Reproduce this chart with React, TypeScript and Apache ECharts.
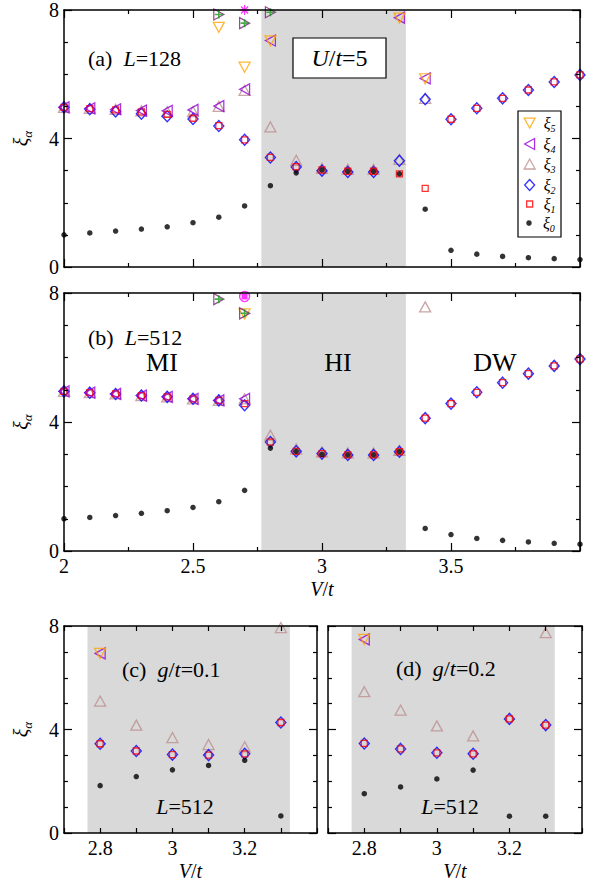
import React, { useEffect, useRef } from "react";
import * as echarts from "echarts";

const FONT = "Liberation Serif";

// ---------- data ----------
const vFull = [2.0, 2.1, 2.2, 2.3, 2.4, 2.5, 2.6, 2.7, 2.8, 2.9, 3.0, 3.1, 3.2, 3.3, 3.4, 3.5, 3.6, 3.7, 3.8, 3.9, 4.0];
const vZoom = [2.8, 2.9, 3.0, 3.1, 3.2, 3.3];
const shadeRange = [2.765, 3.325];

// (a) L=128
const xi0A = [1.0, 1.06, 1.12, 1.18, 1.25, 1.38, 1.55, 1.9, 2.53, 2.93, 3.02, 2.98, 2.98, 2.9, 1.8, 0.52, 0.4, 0.33, 0.29, 0.26, 0.23];
const xi1A = [4.97, 4.93, 4.89, 4.83, 4.75, 4.63, 4.4, 3.96, 3.41, 3.12, 3.02, 2.98, 2.98, 2.9, 2.45, 4.6, 4.94, 5.25, 5.51, 5.76, 5.98];
const xi2A = [4.97, 4.91, 4.84, 4.77, 4.69, 4.61, 4.39, 3.96, 3.41, 3.11, 3.0, 2.96, 2.96, 3.31, 5.22, 4.6, 4.94, 5.25, 5.51, 5.76, 5.98];
const xi3A = [4.97, 4.94, 4.91, 4.86, 4.84, 4.84, 5.0, 5.5, 4.36, 3.32, 3.07, 3.04, 3.04, 3.35, 5.25, null, null, null, null, null, null];
const xi4A = [4.97, 4.94, 4.91, 4.87, 4.86, 4.89, 5.01, 5.53, 7.05, null, null, null, null, 7.76, 5.87, null, null, null, null, null, null];
const xi5A = [null, null, null, null, null, null, 7.46, 6.22, 7.04, null, null, null, null, 7.75, 5.86, null, null, null, null, null, null];
const vHighA = [2.6, 2.7, 2.8];
const xi6A = [7.86, 7.59, 7.93];
const vStarA = [2.7];
const xi7A = [8.0];

// (b) L=512
const xi0B = [1.0, 1.04, 1.1, 1.17, 1.25, 1.35, 1.53, 1.88, 3.19, 3.09, 3.0, 2.98, 2.98, 3.08, 0.7, 0.51, 0.39, 0.33, 0.28, 0.24, 0.21];
const xi1B = [4.95, 4.91, 4.87, 4.82, 4.78, 4.72, 4.67, 4.57, 3.38, 3.09, 3.02, 2.98, 2.98, 3.08, 4.12, 4.57, 4.92, 5.22, 5.5, 5.74, 5.95];
const xi2B = [4.95, 4.91, 4.87, 4.82, 4.78, 4.72, 4.67, 4.52, 3.38, 3.09, 3.02, 2.98, 2.98, 3.08, 4.12, 4.57, 4.92, 5.22, 5.5, 5.74, 5.95];
const xi3B = [4.95, 4.91, 4.87, 4.82, 4.78, 4.72, 4.67, 4.72, 3.59, 3.17, 3.07, 3.04, 3.04, 3.12, 7.57, null, null, null, null, null, null];
const xi4B = [4.95, 4.91, 4.87, 4.82, 4.78, 4.72, 4.67, 4.72, null, null, null, null, null, null, null, null, null, null, null, null, null];
const xi5B = [null, null, null, null, null, null, null, 7.35, null, null, null, null, null, null, null, null, null, null, null, null, null];
const vHighB = [2.6, 2.7];
const xi6B = [7.81, 7.37];
const vStarB = [2.7];
const xi7B = [7.89];

// (c) g/t=0.1
const xi0C = [1.83, 2.18, 2.44, 2.61, 2.81, 0.66];
const xi1C = [3.45, 3.17, 3.03, 3.01, 3.06, 4.27];
const xi2C = [3.45, 3.17, 3.03, 3.01, 3.06, 4.27];
const xi3C = [5.1, 4.17, 3.69, 3.42, 3.33, 7.94];
const xi4C = [6.94, null, null, null, null, null];
const xi5C = [6.94, null, null, null, null, null];

// (d) g/t=0.2
const xi0D = [1.52, 1.78, 2.09, 2.43, 0.65, 0.65];
const xi1D = [3.46, 3.25, 3.1, 3.06, 4.41, 4.17];
const xi2D = [3.46, 3.25, 3.1, 3.06, 4.41, 4.17];
const xi3D = [5.46, 4.75, 4.14, 3.75, null, 7.74];
const xi4D = [7.48, null, null, null, null, null];
const xi5D = [7.48, null, null, null, null, null];

const legendNames = ["ξ5", "ξ4", "ξ3", "ξ2", "ξ1", "ξ0"];
const yTickLabels = [0, 4, 8];

// ---------- styles ----------
const OPEN = "rgba(0,0,0,0)";
const symbolStyles: Record<string, any> = {
  "ξ5": { symbol: "triangle", symbolRotate: 180, symbolSize: [11, 10], itemStyle: { color: OPEN, borderColor: "#ffa500", borderWidth: 1.3 } },
  "ξ4": { symbol: "triangle", symbolRotate: 90, symbolSize: [11, 10], itemStyle: { color: OPEN, borderColor: "#9400d3", borderWidth: 1.3 } },
  "ξ3": { symbol: "triangle", symbolRotate: 0, symbolSize: [11, 10], itemStyle: { color: OPEN, borderColor: "#bc8f8f", borderWidth: 1.3 } },
  "ξ2": { symbol: "diamond", symbolSize: [10, 11], itemStyle: { color: OPEN, borderColor: "#0000ff", borderWidth: 1.4 } },
  "ξ1": { symbol: "rect", symbolSize: 6, itemStyle: { color: OPEN, borderColor: "#ff0000", borderWidth: 1.3 } },
  "ξ0": { symbol: "circle", symbolSize: 5.5, itemStyle: { color: "#000", borderWidth: 0 } },
  hiTri: { symbol: "triangle", symbolRotate: -90, symbolSize: [11, 10], itemStyle: { color: OPEN, borderColor: "#7a1f7a", borderWidth: 1.3 } },
  hiPlus: { symbol: "path://M4,0h2v4h4v2h-4v4h-2v-4h-4v-2h4z", symbolSize: 8, itemStyle: { color: "#1a9a1a", borderWidth: 0 } },
  star: { symbol: "path://M5,0L5,10M0,5L10,5M1.5,1.5L8.5,8.5M8.5,1.5L1.5,8.5", symbolSize: 10, itemStyle: { color: OPEN, borderColor: "#ff00ff", borderWidth: 1.3 } },
  ring: { symbol: "circle", symbolSize: 10, itemStyle: { color: OPEN, borderColor: "#ff00ff", borderWidth: 1.4 } },
  dotM: { symbol: "rect", symbolSize: 6, itemStyle: { color: "#ff00ff", borderWidth: 0 } },
};

const pairs = (xs: number[], ys: (number | null)[]) =>
  xs.map((x, i) => (ys[i] == null ? null : [x, ys[i]])).filter((p) => p !== null);

const rich = (size: number) => ({
  r: { fontFamily: FONT, fontSize: size, color: "#000" },
  i: { fontFamily: FONT, fontSize: size, fontStyle: "italic", color: "#000" },
});

const subRich = (size: number, sub: number) => ({
  x: { fontFamily: FONT, fontSize: size, fontStyle: "italic", color: "#000", lineHeight: Math.round(size * 1.3), verticalAlign: "middle" },
  s: { fontFamily: FONT, fontSize: sub, fontStyle: "italic", color: "#000", lineHeight: Math.round(size * 1.3), verticalAlign: "bottom" },
});

type Panel = {
  grid: any;
  xMin: number;
  xMax: number;
  xInterval: number;
  xMinor: number;
  xLabel: (v: number) => string;
  xShowLabels: boolean;
  yShowLabels: boolean;
  xName: boolean;
  sets: [string, number[], (number | null)[]][];
};

const fullLabel = (v: number) => (v > 3.99 ? "" : String(Math.round(v * 10) / 10));
const zoomLabel = (v: number) => {
  const k = Math.round(v * 10);
  return k === 28 ? "2.8" : k === 30 ? "3" : k === 32 ? "3.2" : "";
};

const panels: Panel[] = [
  {
    grid: { left: 64, top: 9, width: 516, height: 258 },
    xMin: 2, xMax: 4, xInterval: 0.5, xMinor: 2, xLabel: fullLabel, xShowLabels: false, yShowLabels: true, xName: false,
    sets: [
      ["ξ3", vFull, xi3A], ["ξ2", vFull, xi2A], ["ξ1", vFull, xi1A], ["ξ0", vFull, xi0A],
      ["ξ4", vFull, xi4A], ["ξ5", vFull, xi5A], ["hiTri", vHighA, xi6A], ["hiPlus", vHighA, xi6A], ["star", vStarA, xi7A],
    ],
  },
  {
    grid: { left: 64, top: 293, width: 516, height: 258 },
    xMin: 2, xMax: 4, xInterval: 0.5, xMinor: 2, xLabel: fullLabel, xShowLabels: true, yShowLabels: true, xName: true,
    sets: [
      ["ξ3", vFull, xi3B], ["ξ2", vFull, xi2B], ["ξ1", vFull, xi1B], ["ξ0", vFull, xi0B],
      ["ξ4", vFull, xi4B], ["ξ5", vFull, xi5B], ["hiTri", vHighB, xi6B], ["hiPlus", vHighB, xi6B],
      ["ring", vStarB, xi7B], ["dotM", vStarB, xi7B],
    ],
  },
  {
    grid: { left: 64, top: 626, width: 253, height: 207 },
    xMin: 2.7, xMax: 3.4, xInterval: 0.1, xMinor: 0, xLabel: zoomLabel, xShowLabels: true, yShowLabels: true, xName: true,
    sets: [
      ["ξ3", vZoom, xi3C], ["ξ2", vZoom, xi2C], ["ξ1", vZoom, xi1C], ["ξ0", vZoom, xi0C],
      ["ξ4", vZoom, xi4C], ["ξ5", vZoom, xi5C],
    ],
  },
  {
    grid: { left: 328, top: 626, width: 254, height: 207 },
    xMin: 2.7, xMax: 3.4, xInterval: 0.1, xMinor: 0, xLabel: zoomLabel, xShowLabels: true, yShowLabels: false, xName: true,
    sets: [
      ["ξ3", vZoom, xi3D], ["ξ2", vZoom, xi2D], ["ξ1", vZoom, xi1D], ["ξ0", vZoom, xi0D],
      ["ξ4", vZoom, xi4D], ["ξ5", vZoom, xi5D],
    ],
  },
];

const lineStyle = { color: "#000", width: 1.5 };
const tickStyle = { color: "#000", width: 1.2 };

function buildOption() {
  const grid: any[] = [];
  const xAxis: any[] = [];
  const yAxis: any[] = [];
  const series: any[] = [];

  panels.forEach((p, gi) => {
    grid.push({ ...p.grid, containLabel: false });
    const xBase = {
      type: "value", gridIndex: gi, min: p.xMin, max: p.xMax, interval: p.xInterval, z: 5,
      axisLine: { show: true, onZero: false, lineStyle },
      axisTick: { show: true, inside: true, length: p.xMinor ? 8 : 5, lineStyle: tickStyle },
      minorTick: { show: p.xMinor > 0, splitNumber: p.xMinor || 5, length: 4, lineStyle: tickStyle },
      splitLine: { show: false },
    };
    xAxis.push({
      ...xBase, position: "bottom",
      axisLabel: { show: p.xShowLabels, formatter: p.xLabel, fontFamily: FONT, fontSize: 20, color: "#000", margin: 5, showMinLabel: true, showMaxLabel: true },
      name: p.xName ? "{i|V}{r|/}{i|t}" : "",
      nameLocation: "middle", nameGap: 28,
      nameTextStyle: { fontFamily: FONT, fontSize: 20, rich: rich(20) },
    });
    xAxis.push({ ...xBase, position: "top", axisLabel: { show: false } });
    const yBase = {
      type: "value", gridIndex: gi, min: 0, max: 8, interval: 4, z: 5,
      axisLine: { show: true, onZero: false, lineStyle },
      axisTick: { show: true, inside: true, length: 8, lineStyle: tickStyle },
      minorTick: { show: true, splitNumber: 4, length: 4, lineStyle: tickStyle },
      splitLine: { show: false },
    };
    yAxis.push({
      ...yBase, position: "left",
      axisLabel: {
        show: p.yShowLabels, fontFamily: FONT, fontSize: 20, color: "#000", margin: 5,
        formatter: (v: number) => (yTickLabels.includes(Math.round(v)) ? String(Math.round(v)) : ""),
      },
      name: p.yShowLabels ? "{x|ξ}{s|α}" : "",
      nameLocation: "middle", nameGap: 30, nameRotate: 90,
      nameTextStyle: { fontFamily: FONT, fontSize: 20, rich: subRich(20, 13) },
    });
    yAxis.push({ ...yBase, position: "right", axisLabel: { show: false } });

    const xi = gi * 2;
    p.sets.forEach(([key, xs, ys], si) => {
      const st = symbolStyles[key];
      const s: any = {
        type: "scatter", name: key, xAxisIndex: xi, yAxisIndex: xi, z: 3,
        data: pairs(xs, ys), ...st, silent: true,
      };
      if (si === 0) {
        s.markArea = {
          silent: true,
          itemStyle: { color: "#d9d9d9" },
          data: [[{ xAxis: shadeRange[0] }, { xAxis: shadeRange[1] }]],
        };
      }
      series.push(s);
    });
  });

  // legend rows: name, centre y, icon width, icon height, icon
  const legendRows: [string, number, number, number, string][] = [
    ["ξ5", 125, 11, 10, "path://M0,0L10,0L5,9Z"],
    ["ξ4", 146, 10, 11, "path://M9,0L9,10L0,5Z"],
    ["ξ3", 166, 11, 10, "triangle"],
    ["ξ2", 187, 10, 11, "diamond"],
    ["ξ1", 206, 6, 6, "rect"],
    ["ξ0", 225, 5.5, 5.5, "circle"],
  ];
  const textX = 543;
  const iconCx = 529;
  const legend = legendRows.map(([n, cy, w, h, icon]) => {
    const left = iconCx - w / 2;
    const pad = Math.max(0, textX - (left + w + 5));
    return {
      data: [{ name: n, icon }], left, top: cy - 10, itemWidth: w, itemHeight: h, padding: 0, z: 20,
      selectedMode: false,
      itemStyle: { borderWidth: n === "ξ0" ? 0 : 1.3 },
      formatter: (name: string) => `{p|}{x|ξ}{s|${name.slice(1)}}`,
      textStyle: { rich: { ...subRich(16, 10), p: { width: pad, lineHeight: 20 } } },
    };
  });

  const T = (x: number, y: number, text: string, size: number, align = "left") => ({
    type: "text", x, y, z: 50,
    style: { text, rich: rich(size), align, verticalAlign: "middle", fontFamily: FONT, fontSize: size },
  });

  const graphic = [
    { type: "rect", shape: { x: 518, y: 111, width: 43, height: 126 }, style: { fill: "#fff", stroke: "#000", lineWidth: 1.2 }, z: 4 },
    { type: "rect", shape: { x: 293, y: 38, width: 93, height: 40 }, style: { fill: "#fff", stroke: "#000", lineWidth: 1.2 }, z: 40 },
    T(339.5, 58, "{i|U}{r|/}{i|t}{r|=5}", 24, "center"),
    T(88, 58, "{r|(a)  }{i|L}{r|=128}", 22),
    T(88, 337, "{r|(b)  }{i|L}{r|=512}", 22),
    T(162, 362, "{r|MI}", 26, "center"),
    T(338, 362, "{r|HI}", 26, "center"),
    T(495, 362, "{r|DW}", 26, "center"),
    T(122, 669, "{r|(c)  }{i|g}{r|/}{i|t}{r|=0.1}", 22),
    T(185, 806, "{i|L}{r|=512}", 22, "center"),
    T(396, 668, "{r|(d)  }{i|g}{r|/}{i|t}{r|=0.2}", 22),
    T(450, 806, "{i|L}{r|=512}", 22, "center"),
  ];

  return { animation: false, backgroundColor: "#fff", grid, xAxis, yAxis, series, legend, graphic };
}

export default function App() {
  const ref = useRef<HTMLDivElement>(null);
  useEffect(() => {
    if (!ref.current) return;
    const chart = echarts.init(ref.current, undefined, { renderer: "svg" });
    chart.setOption(buildOption() as any);
    return () => chart.dispose();
  }, []);
  return <div ref={ref} style={{ position: "fixed", left: 0, top: 0, width: 590, height: 888 }} />;
}
